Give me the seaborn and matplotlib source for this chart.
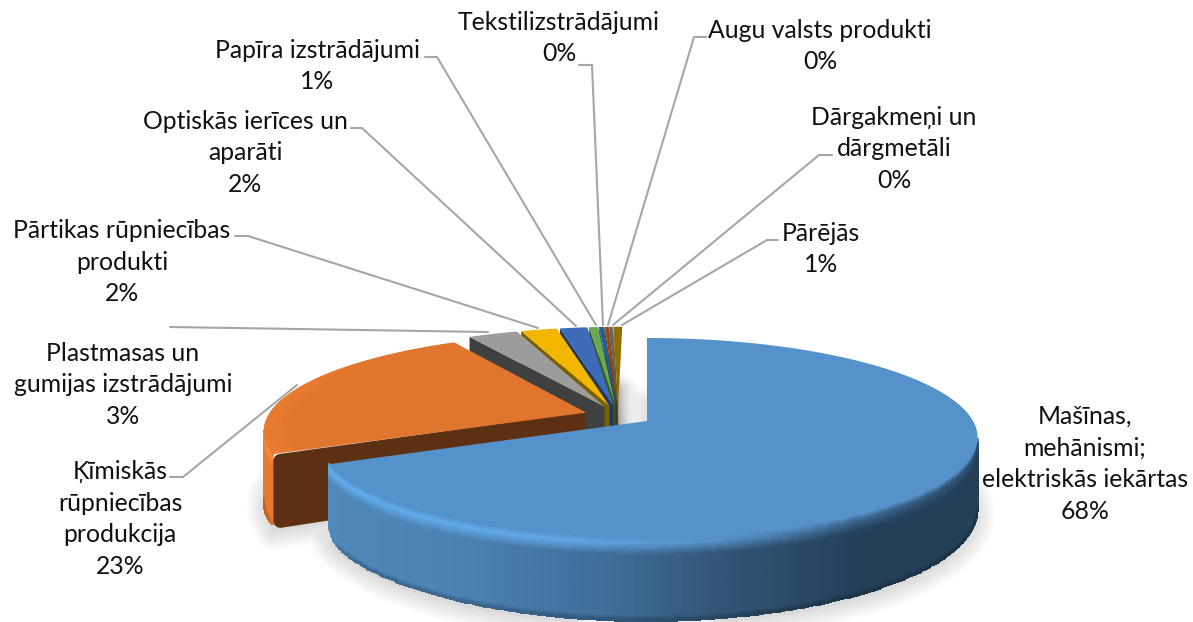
import numpy as np
import pandas as pd
import seaborn as sns
import matplotlib.pyplot as plt
from matplotlib.colors import to_rgb

# share of each product group, percent
nosaukumi = ['Mašīnas,\nmehānismi;\nelektriskās iekārtas', 'Ķīmiskās\nrūpniecības\nprodukcija',
             'Plastmasas un\ngumijas izstrādājumi', 'Pārtikas rūpniecības\nprodukti',
             'Optiskās ierīces un\naparāti', 'Papīra izstrādājumi', 'Tekstilizstrādājumi',
             'Augu valsts produkti', 'Dārgakmeņi un\ndārgmetāli', 'Pārējās']
vertibas = [68.2, 23.45, 2.9, 2.1, 1.6, 0.52, 0.3, 0.25, 0.2, 0.52]

krasas_virsa = ['#5591ca', '#e0752d', '#9c9c9c', '#f3b600', '#3e6bb8', '#6aa84f', '#255e91', '#9e480e', '#636363', '#8f6e00']
krasas_griezums = ['#2a4a68', '#5e3013', '#404040', '#7b5e00', '#1f3864', '#375623', '#163a5a', '#5f2c09', '#3b3b3b', '#6b5200']

# label block centres and leader lines, in picture pixels
etikesu_vietas = [(1085, 464), (120, 519), (123, 385), (122, 262), (245, 153),
                  (317, 66), (559, 38), (820, 46), (894, 149), (821, 249)]
libnes = [None,
          [(170, 477), (183, 477), (297, 385)],
          [(170, 327), (488, 332)],
          [(235, 236), (248, 236), (538, 328)],
          [(351, 128), (362, 128), (576, 326)],
          [(425, 57), (437, 57), (596, 325)],
          [(579, 65), (592, 65), (603, 325)],
          [(706, 37), (694, 37), (608, 325)],
          [(832, 155), (819, 155), (613, 325)],
          [(778, 240), (767, 240), (622, 325)]]

# perspective of the disc
X0, Y0, R, A, K, H = 647, 421, 326, 96.8, 0.166, 70
CENTRS = (-0.089, 0.056)
IZVIRZE = 0.105
RADIUSI = [1.0, 0.985] + [1.0] * 8


def projekcija(u, v, z=0.0):
    w = 1 + K * v
    return X0 + R * u / w, Y0 - A * v / w + H * z / w


def apaline(x, punkti, kanali):
    return np.stack([np.interp(x, punkti, [to_rgb(k)[i] for k in kanali]) for i in range(3)], axis=-1)


def sienas_krasas(x, z, sl):
    # shading of the outer wall: bevel at the top, light from the left
    if sl == 0:
        siena = apaline(x, [330, 450, 600, 720, 860, 980],
                        ['#5088ba', '#4c82b4', '#3f6f9b', '#335677', '#243f58', '#243f58'])
        gaisma = apaline(x, [330, 560, 720, 860, 980],
                         ['#62aef0', '#62a8e8', '#5590c8', '#3a658c', '#2f5273'])
        virsa = np.array(to_rgb('#5591ca'))
    else:
        siena = apaline(x, [260, 300], ['#e87a2e', '#e87a2e'])
        gaisma = apaline(x, [260, 300], ['#ff8c3c', '#ff8c3c'])
        virsa = np.array(to_rgb('#e0752d'))
    s = z[..., None]
    c = np.where(s < 0.07, virsa + (gaisma - virsa) * s / 0.07,
                 gaisma + (siena - gaisma) * np.clip((s - 0.07) / 0.14, 0, 1))
    c = c * (1 - 0.3 * np.clip((s - 0.93) / 0.07, 0, 1))
    return c[:-1, :-1]


vert = np.array(vertibas)
robezas = np.concatenate([[0], np.cumsum(vert)]) / vert.sum() * 2 * np.pi
procenti = [f'{round(v / vert.sum() * 100)}%' for v in vert]

sns.set_theme(style='white')
plt.rcParams['font.family'] = ['Lato', 'DejaVu Sans']
fig, ax = plt.subplots(figsize=(11.93, 6.22), dpi=100)
fig.subplots_adjust(0, 0, 1, 1)

skeles = []
for i in range(len(vert)):
    vid = (robezas[i] + robezas[i + 1]) / 2
    cu = CENTRS[0] + IZVIRZE * np.sin(vid)
    cv = CENTRS[1] + IZVIRZE * np.cos(vid)
    if i == 0:
        cu, cv = 0.0, 0.0
    t = np.linspace(robezas[i], robezas[i + 1], 360 if i < 2 else 12)
    skeles.append((cu, cv, t))

# soft shadow below the pie
for i, (cu, cv, t) in enumerate(skeles):
    r = RADIUSI[i]
    bx, by = projekcija(np.r_[cu, cu + r * np.sin(t)], np.r_[cv, cv + r * np.cos(t)], 1.0)
    ax.fill(bx, by + 4, color='k', alpha=0.05, lw=0, zorder=1)
    for lw in [4, 8, 12, 16, 20, 24]:
        ax.plot(np.r_[bx, bx[0]], np.r_[by, by[0]] + 5, color='k', alpha=0.018, lw=lw,
                solid_joinstyle='round', zorder=1)

# leader lines
for lib in libnes:
    if lib is None:
        continue
    d = pd.DataFrame(lib, columns=['x', 'y'])
    sns.lineplot(data=d, x='x', y='y', sort=False, estimator=None, color='#a6a6a6', lw=1.5, ax=ax, zorder=2)

# slices back to front, so that the last ones are the largest
z_sec = 3
for i in list(range(2, len(vert)))[::-1] + [1, 0]:
    cu, cv, t = skeles[i]
    r = RADIUSI[i]
    u, v = cu + r * np.sin(t), cv + r * np.cos(t)
    rimx, _ = projekcija(u, v)
    # outer wall, only up to the silhouette of the disc
    if i < 2:
        if i == 0:
            tt = t[np.argmax(rimx):]
            taper = 1 - 0.14 * np.exp(-(t[-1] - tt) / 0.05)
        else:
            tt = t[:np.argmin(rimx) + 1]
            taper = 1 - 0.05 * np.exp(-(tt - t[0]) / 0.05)
        zz = np.linspace(0, 1, 41)
        T, Z = np.meshgrid(tt, zz)
        Z = Z * taper
        mx, my = projekcija(cu + r * np.sin(T), cv + r * np.cos(T), Z)
        ax.pcolormesh(mx, my, sienas_krasas(mx, Z, i), zorder=z_sec, shading='flat',
                      edgecolors='face', linewidth=0.3)
    # cut face on the side turned to the viewer
    if i == 1:
        # rounded outer corners
        gx, gy = projekcija(np.array([cu, u[0], u[0], cu]), np.array([cv, v[0], v[0], cv]),
                            np.array([0, 0, 1, 1]))
        ap = 7
        gx = gx + np.array([-ap, ap, ap, -ap])
        gy = gy + np.array([ap, ap, -ap, -ap])
        ax.fill(gx, gy, facecolor=krasas_griezums[i], edgecolor=krasas_griezums[i],
                lw=ap * 2 * 0.72, joinstyle='round', zorder=z_sec + 0.2)
    elif i > 1:
        gx, gy = projekcija(np.array([cu, u[0], u[0], cu]), np.array([cv, v[0], v[0], cv]),
                            np.array([0, 0, 1, 1]))
        ax.fill(gx, gy, color=krasas_griezums[i], lw=0, zorder=z_sec + 0.2)
    # top face
    px, py = projekcija(np.r_[cu, u], np.r_[cv, v])
    ax.fill(px, py, color=krasas_virsa[i], lw=0, zorder=z_sec + 0.5)
    # lighter band along the rim of the orange slice
    if i == 1:
        tb = t[t < np.deg2rad(305)]
        vajums = np.clip((np.deg2rad(305) - tb) / 0.35, 0, 1)
        for platums in [0.07, 0.05, 0.03, 0.015]:
            iek = r * (1 - platums * vajums)
            ix, iy = projekcija(cu + iek * np.sin(tb), cv + iek * np.cos(tb))
            ox, oy = projekcija(cu + r * np.sin(tb), cv + r * np.cos(tb))
            ax.fill(np.r_[ox, ix[::-1]], np.r_[oy, iy[::-1]], color='#f08334', alpha=0.2, lw=0,
                    zorder=z_sec + 0.6)
    z_sec += 1

# data labels
for nos, pr, (x, y) in zip(nosaukumi, procenti, etikesu_vietas):
    ax.text(x, y, nos + '\n' + pr, ha='center', va='center', multialignment='center',
            fontsize=17.8, linespacing=1.46, color='#111111', zorder=50)

ax.set_xlim(0, 1193)
ax.set_ylim(622, 0)
ax.axis('off')
fig.savefig('out.png', dpi=100, facecolor='white')
